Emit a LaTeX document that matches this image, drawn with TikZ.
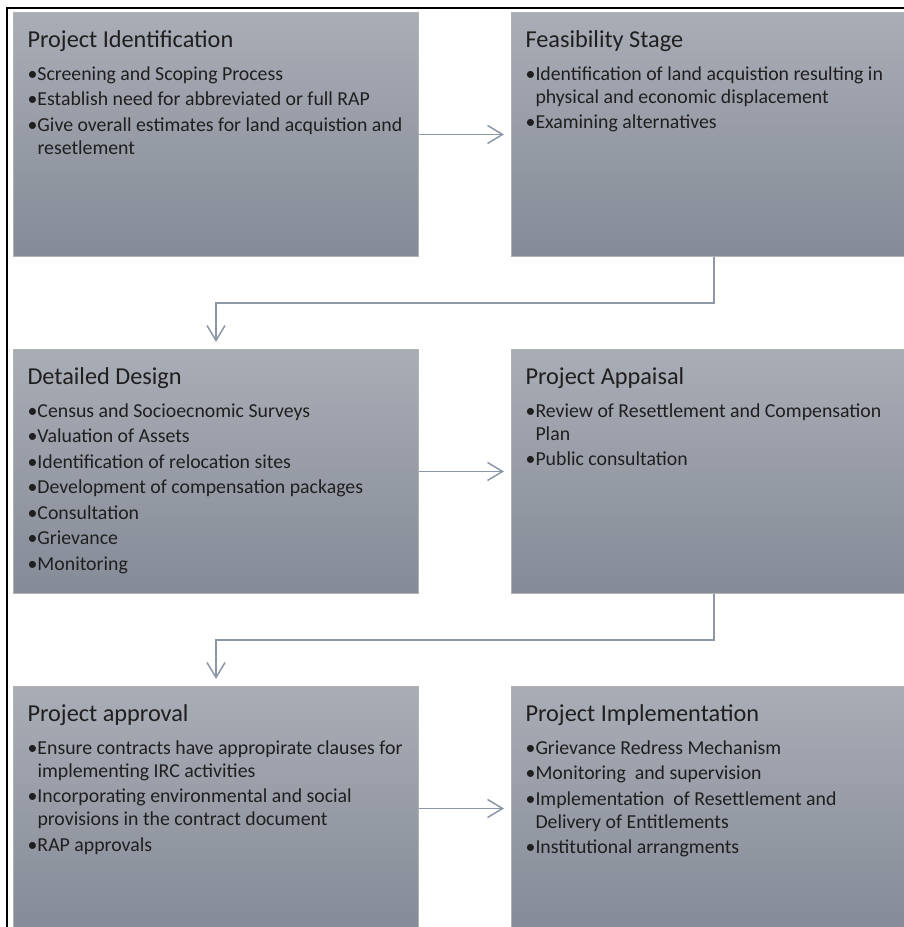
\documentclass[tikz,border=0pt]{standalone}
\usepackage{fontspec}
\setmainfont{Carlito}
\usetikzlibrary{positioning,arrows.meta}

\definecolor{stagetop}{HTML}{A9ADB6}
\definecolor{stagebottom}{HTML}{858B97}
\definecolor{flowline}{HTML}{8C98A9}
\definecolor{stagetext}{HTML}{1F1F1F}

\newcommand{\stagetitle}[1]{{\fontsize{24.3}{28}\selectfont #1\par}\vspace{10pt}}
\newcommand{\stagepoint}[1]{\par\hangindent=10pt\hangafter=1\noindent\makebox[10pt][l]{\textbullet}#1\par\vspace{2.5pt}}
\newcommand{\stagebody}[1]{\begin{minipage}[t][208pt][t]{377pt}\raggedright #1\end{minipage}}

\tikzset{
    stage/.style={draw=black!30, line width=1pt, top color=stagetop, bottom color=stagebottom,
        minimum width=405pt, minimum height=244pt, inner xsep=14pt, inner ysep=18pt, text=stagetext,
        font=\fontsize{19.8}{23}\selectfont},
    flow/.style={draw=flowline, line width=1.5pt, -{Straight Barb[length=15pt,width=18pt]}, shorten >=7pt}
}

\begin{document}
\begin{tikzpicture}[x=1pt, y=1pt]
    \useasboundingbox (0,0) rectangle (904,927);
    \clip (0,0) rectangle (904,927);

    % Frame lines at top and left
    \draw[line width=2pt] (7,0) -- (7,919) -- (904,919);

    % First row
    \node[stage, anchor=north west] (ident) at (13,915) {\stagebody{%
        \stagetitle{Project Identification}
        \stagepoint{Screening and Scoping Process}
        \stagepoint{Establish need for abbreviated or full RAP}
        \stagepoint{Give overall estimates for land acquistion and\newline resetlement}}};
    \node[stage, right=92pt of ident] (feas) {\stagebody{%
        \stagetitle{Feasibility Stage}
        \stagepoint{Identification of land acquistion resulting in\newline physical and economic displacement}
        \stagepoint{Examining alternatives}}};

    % Second row
    \node[stage, below=92pt of ident] (design) {\stagebody{%
        \stagetitle{Detailed Design}
        \stagepoint{Census and Socioecnomic Surveys}
        \stagepoint{Valuation of Assets}
        \stagepoint{Identification of relocation sites}
        \stagepoint{Development of compensation packages}
        \stagepoint{Consultation}
        \stagepoint{Grievance}
        \stagepoint{Monitoring}}};
    \node[stage, right=92pt of design] (appraise) {\stagebody{%
        \stagetitle{Project Appaisal}
        \stagepoint{Review of Resettlement and Compensation\newline Plan}
        \stagepoint{Public consultation}}};

    % Third row
    \node[stage, below=92pt of design] (approve) {\stagebody{%
        \stagetitle{Project approval}
        \stagepoint{Ensure contracts have appropirate clauses for\newline implementing IRC activities}
        \stagepoint{Incorporating environmental and social\newline provisions in the contract document}
        \stagepoint{RAP approvals}}};
    \node[stage, right=92pt of approve] (implement) {\stagebody{%
        \stagetitle{Project Implementation}
        \stagepoint{Grievance Redress Mechanism}
        \stagepoint{Monitoring\ \ and supervision}
        \stagepoint{Implementation\ \ of Resettlement and\newline Delivery of Entitlements}
        \stagepoint{Institutional arrangments}}};

    % Connectors
    \draw[flow] (ident.east) -- (feas.west);
    \draw[flow] (feas.south) -- ++(0,-46) -| (design.north);
    \draw[flow] (design.east) -- (appraise.west);
    \draw[flow] (appraise.south) -- ++(0,-46) -| (approve.north);
    \draw[flow] (approve.east) -- (implement.west);
\end{tikzpicture}
\end{document}
